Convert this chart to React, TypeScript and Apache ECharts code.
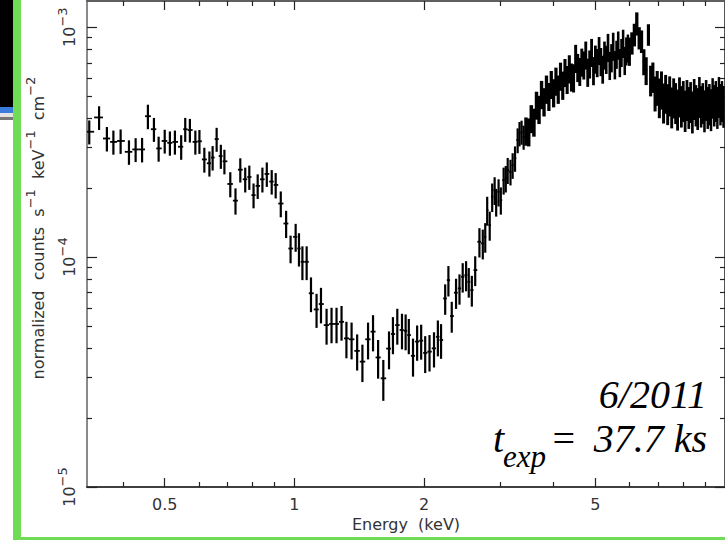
import React, { useEffect, useRef } from 'react';
import * as echarts from 'echarts';

// Counts are listed in units of 1e-4 counts s^-1 keV^-1 cm^-2.
const COUNT_UNIT = 1e-4;

// Soft band: wide bins from 0.33 keV up to ~3.4 keV.
const softEnergy = [
  0.334, 0.352, 0.367, 0.380, 0.395, 0.413, 0.428, 0.443, 0.457, 0.472,
  0.484, 0.500, 0.514, 0.528, 0.546, 0.558, 0.572, 0.589, 0.602, 0.618,
  0.635, 0.646, 0.660, 0.675, 0.688, 0.710, 0.730, 0.749, 0.769, 0.786,
  0.804, 0.822, 0.843, 0.863, 0.886, 0.905, 0.930, 0.957, 0.980, 1.007,
  1.025, 1.044, 1.068, 1.093, 1.126, 1.153, 1.188, 1.220, 1.253, 1.287,
  1.321, 1.358, 1.399, 1.439, 1.483, 1.523, 1.565, 1.609, 1.659, 1.694,
  1.734, 1.778, 1.813, 1.844, 1.886, 1.928, 1.970, 2.013, 2.060, 2.110,
  2.154, 2.191, 2.240, 2.279, 2.320, 2.374, 2.418, 2.460, 2.505, 2.541,
  2.583, 2.630, 2.690, 2.739, 2.775, 2.804, 2.842, 2.880, 2.918, 2.942,
  2.980, 3.016, 3.062, 3.097, 3.129, 3.176, 3.213, 3.254, 3.300, 3.333,
  3.370, 3.407,
];
const softCounts = [
  3.51, 4.05, 3.28, 3.17, 3.20, 2.87, 2.94, 2.94, 4.10, 3.60,
  2.97, 3.20, 3.14, 3.17, 3.02, 3.60, 3.57, 3.17, 3.19, 2.66,
  2.56, 2.71, 3.26, 2.75, 2.61, 2.08, 1.76, 2.40, 2.18, 2.23,
  1.86, 2.04, 2.18, 2.30, 2.13, 2.06, 1.71, 1.40, 1.09, 1.225,
  1.09, 0.954, 0.954, 0.696, 0.592, 0.625, 0.506, 0.512, 0.512, 0.523,
  0.443, 0.439, 0.391, 0.351, 0.439, 0.474, 0.366, 0.297, 0.400, 0.463,
  0.506, 0.482, 0.478, 0.458, 0.372, 0.429, 0.433, 0.383, 0.388, 0.401,
  0.450, 0.436, 0.661, 0.794, 0.554, 0.700, 0.731, 0.821, 0.835, 0.781,
  0.719, 0.878, 1.166, 1.147, 1.225, 1.600, 1.378, 1.83, 1.955, 1.74,
  1.92, 1.77, 2.16, 2.20, 2.39, 2.35, 2.51, 2.69, 3.23, 3.45,
  3.50, 3.33,
];
const softErr = [
  0.42, 0.48, 0.40, 0.38, 0.39, 0.35, 0.35, 0.36, 0.50, 0.43,
  0.37, 0.38, 0.38, 0.38, 0.37, 0.43, 0.42, 0.38, 0.38, 0.33,
  0.32, 0.33, 0.39, 0.33, 0.32, 0.26, 0.23, 0.29, 0.27, 0.27,
  0.23, 0.25, 0.27, 0.28, 0.26, 0.26, 0.22, 0.19, 0.15, 0.17,
  0.18, 0.16, 0.16, 0.12, 0.10, 0.11, 0.09, 0.09, 0.09, 0.09,
  0.08, 0.08, 0.07, 0.065, 0.08, 0.085, 0.07, 0.06, 0.075, 0.085,
  0.09, 0.085, 0.085, 0.08, 0.07, 0.075, 0.075, 0.07, 0.07, 0.07,
  0.08, 0.075, 0.10, 0.12, 0.085, 0.105, 0.11, 0.12, 0.125, 0.115,
  0.11, 0.13, 0.17, 0.17, 0.18, 0.23, 0.20, 0.26, 0.27, 0.24,
  0.26, 0.24, 0.29, 0.29, 0.31, 0.30, 0.32, 0.34, 0.40, 0.42,
  0.42, 0.40,
];

// Hard band: narrow bins from 3.45 keV to 10 keV, including the Fe line.
const hardEnergy = [
  3.45, 3.50, 3.55, 3.60, 3.65, 3.70, 3.75, 3.80, 3.85, 3.90,
  3.95, 4.00, 4.05, 4.10, 4.15, 4.20, 4.25, 4.30, 4.35, 4.40,
  4.45, 4.50, 4.55, 4.60, 4.65, 4.70, 4.75, 4.80, 4.85, 4.90,
  4.95, 5.00, 5.05, 5.10, 5.15, 5.20, 5.25, 5.30, 5.35, 5.40,
  5.45, 5.50, 5.55, 5.60, 5.65, 5.70, 5.75, 5.80, 5.85, 5.90,
  5.95, 6.00,
  6.08, 6.16, 6.24, 6.32, 6.40, 6.48, 6.56, 6.64, 6.72, 6.80,
  6.88, 6.96, 7.04, 7.12, 7.20, 7.28, 7.36, 7.44, 7.52, 7.60,
  7.68, 7.76, 7.84, 7.92, 8.00, 8.08, 8.16, 8.24, 8.32, 8.40,
  8.48, 8.56, 8.64, 8.72, 8.80, 8.88, 8.96, 9.04, 9.12, 9.20,
  9.28, 9.36, 9.44, 9.52, 9.60, 9.68, 9.76, 9.84, 9.92,
];
const hardCounts = [
  3.55, 3.52, 4.02, 3.88, 4.60, 4.41, 5.12, 4.76, 5.40, 5.02,
  5.66, 5.21, 5.85, 5.40, 6.15, 5.62, 6.38, 5.95, 6.62, 6.10,
  6.05, 7.35, 6.71, 6.45, 7.08, 6.88, 7.60, 6.40, 6.95, 7.80,
  6.50, 7.30, 7.05, 7.95, 7.12, 6.60, 7.60, 7.28, 8.20, 6.85,
  7.40, 8.30, 6.90, 7.66, 8.40, 7.05, 7.80, 8.55, 7.20, 7.92,
  8.15, 7.90,
  8.55, 9.30, 10.4, 9.0, 8.7, 7.1, 6.5, 9.3, 5.9, 6.1,
  5.2, 5.5, 5.0, 5.4, 4.75, 5.2, 4.7, 5.1, 4.55, 5.0,
  4.75, 4.45, 5.05, 4.6, 4.85, 4.4, 4.9, 4.55, 4.8, 4.35,
  4.95, 4.65, 4.5, 5.05, 4.6, 4.75, 4.4, 4.9, 4.55, 4.7,
  4.45, 5.0, 4.65, 4.85, 4.55, 5.05, 4.7, 4.85, 4.6,
];
const hardErr = [
  0.50, 0.49, 0.56, 0.54, 0.64, 0.62, 0.72, 0.67, 0.76, 0.70,
  0.79, 0.73, 0.82, 0.76, 0.86, 0.79, 0.89, 0.83, 0.93, 0.85,
  0.85, 1.03, 0.94, 0.90, 0.99, 0.96, 1.06, 0.90, 0.97, 1.09,
  0.91, 1.02, 0.99, 1.11, 1.00, 0.92, 1.06, 1.02, 1.15, 0.96,
  1.04, 1.16, 0.97, 1.07, 1.18, 0.99, 1.09, 1.20, 1.01, 1.11,
  1.14, 1.11,
  0.95, 1.05, 1.2, 1.0, 0.98, 0.92, 0.9, 1.0, 0.9, 0.92,
  0.9, 0.95, 0.98, 1.02, 0.94, 1.0, 0.95, 1.01, 0.92, 0.99,
  0.96, 0.9, 1.0, 0.94, 0.98, 0.9, 0.99, 0.94, 0.97, 0.9,
  1.0, 0.95, 0.93, 1.02, 0.94, 0.96, 0.91, 0.99, 0.94, 0.96,
  0.92, 1.0, 0.95, 0.98, 0.94, 1.02, 0.96, 0.98, 0.95,
];

// Axis ranges and tick positions
const X_MIN = 0.33;
const X_MAX = 10;
const Y_MIN = 1e-5;
const Y_MAX = 1.3e-3;
const xMajorTicks = [0.5, 1, 2, 5];
const xMinorTicks = [0.4, 0.6, 0.7, 0.8, 0.9, 3, 4, 6, 7, 8, 9];
const yMajorTicks = [1e-5, 1e-4, 1e-3];
const yMinorTicks = [
  2e-5, 3e-5, 4e-5, 5e-5, 6e-5, 7e-5, 8e-5, 9e-5,
  2e-4, 3e-4, 4e-4, 5e-4, 6e-4, 7e-4, 8e-4, 9e-4,
];

const AXIS_FONT = 'DejaVu Sans';
const SERIF_FONT = "'Liberation Serif', 'Times New Roman', serif";
const INK = '#000';
const GREEN = '#6fdc55';

function buildRows() {
  const energy = [...softEnergy, ...hardEnergy];
  const counts = [...softCounts, ...hardCounts];
  const errs = [...softErr, ...hardErr];
  const n = energy.length;
  return energy.map((e, i) => {
    // bin edges sit halfway (in log space) between neighbouring bin centres
    const prev = i > 0 ? energy[i - 1] : (e * e) / energy[i + 1];
    const next = i < n - 1 ? energy[i + 1] : (e * e) / energy[i - 1];
    return [
      e,
      counts[i] * COUNT_UNIT,
      Math.sqrt(prev * e),
      Math.sqrt(e * next),
      errs[i] * COUNT_UNIT,
      i >= softEnergy.length ? 1 : 0, // 1 = hard band bin
    ];
  });
}

function xAxisDef(position: 'top' | 'bottom', ticks: number[], len: number, labels: boolean, lineColor: string) {
  return {
    type: 'log',
    logBase: 10,
    position,
    min: X_MIN,
    max: X_MAX,
    gridIndex: 0,
    splitLine: { show: false },
    axisLine: { show: true, lineStyle: { color: lineColor, width: 1.5 } },
    axisTick: {
      show: true,
      inside: true,
      length: len,
      customValues: ticks,
      lineStyle: { color: '#222', width: 1.2 },
    },
    axisLabel: labels
      ? {
          show: true,
          customValues: ticks,
          margin: 9,
          color: '#333',
          fontFamily: AXIS_FONT,
          fontSize: 16,
          formatter: (v: number) => String(v),
        }
      : { show: false },
    name: labels ? 'Energy  (keV)' : '',
    nameLocation: 'middle',
    nameGap: 27,
    nameTextStyle: { color: '#333', fontFamily: AXIS_FONT, fontSize: 16 },
  };
}

function yAxisDef(position: 'left' | 'right', ticks: number[], len: number, labels: boolean, lineColor: string) {
  return {
    type: 'log',
    logBase: 10,
    position,
    min: Y_MIN,
    max: Y_MAX,
    gridIndex: 0,
    splitLine: { show: false },
    axisLine: { show: true, lineStyle: { color: lineColor, width: 2 } },
    axisTick: {
      show: true,
      inside: true,
      length: len,
      customValues: ticks,
      lineStyle: { color: '#222', width: 1.2 },
    },
    axisLabel: labels
      ? {
          show: true,
          customValues: ticks,
          rotate: 90,
          margin: 5,
          formatter: (v: number) => `{b|10}{s|\u2212${Math.round(-Math.log10(v))}}`,
          rich: {
            b: { fontFamily: AXIS_FONT, fontSize: 16, color: '#333', lineHeight: 26 },
            s: { fontFamily: AXIS_FONT, fontSize: 13, color: '#333', lineHeight: 14, verticalAlign: 'top' },
          },
        }
      : { show: false },
  };
}

function serifText(text: string, x: number, y: number, size: number, align: string) {
  return {
    type: 'text',
    x,
    y,
    style: {
      text,
      font: `italic ${size}px ${SERIF_FONT}`,
      fill: '#000',
      align,
      verticalAlign: 'middle',
    },
  };
}

export default function App() {
  const ref = useRef<HTMLDivElement>(null);

  useEffect(() => {
    if (!ref.current) return;
    const chart = echarts.init(ref.current, undefined, { renderer: 'svg' });
    const rows = buildRows();

    const option = {
      animation: false,
      backgroundColor: '#fff',
      grid: { left: 87, top: 1, width: 641, height: 486, containLabel: false },
      xAxis: [
        xAxisDef('bottom', xMajorTicks, 9, true, '#333'),
        xAxisDef('bottom', xMinorTicks, 5, false, '#333'),
        xAxisDef('top', xMajorTicks, 9, false, '#555'),
        xAxisDef('top', xMinorTicks, 5, false, '#555'),
      ],
      yAxis: [
        yAxisDef('left', yMajorTicks, 10, true, '#8a8a8a'),
        yAxisDef('left', yMinorTicks, 5, false, '#8a8a8a'),
        yAxisDef('right', yMajorTicks, 10, false, '#555'),
        yAxisDef('right', yMinorTicks, 5, false, '#555'),
      ],
      series: [
        {
          type: 'custom',
          name: 'spectrum',
          xAxisIndex: 0,
          yAxisIndex: 0,
          data: rows,
          encode: { x: 0, y: 1 },
          clip: true,
          renderItem: (_params: any, api: any) => {
            const e = api.value(0);
            const v = api.value(1);
            const lo = api.value(2);
            const hi = api.value(3);
            const err = api.value(4);
            const hard = api.value(5) === 1;
            const top = api.coord([e, v + err]);
            const bot = api.coord([e, Math.max(v - err, Y_MIN * 0.5)]);
            const left = api.coord([lo, v]);
            const right = api.coord([hi, v]);
            // the narrow hard-band bins merge into a solid band
            const binPx = right[0] - left[0];
            const barWidth = hard ? binPx + 0.9 : 2.2;
            return {
              type: 'group',
              children: [
                {
                  type: 'line',
                  shape: { x1: top[0], y1: top[1], x2: bot[0], y2: bot[1] },
                  style: { stroke: INK, lineWidth: barWidth },
                },
                {
                  type: 'line',
                  shape: { x1: left[0], y1: left[1], x2: right[0], y2: right[1] },
                  style: { stroke: INK, lineWidth: 1.8 },
                },
              ],
            };
          },
        },
      ],
      graphic: [
        // window chrome at the left edge
        { type: 'rect', left: 0, top: 0, shape: { width: 13, height: 107 }, style: { fill: '#000' } },
        { type: 'rect', left: 0, top: 107, shape: { width: 13, height: 6 }, style: { fill: '#3b7bdc' } },
        { type: 'rect', left: 0, top: 113, shape: { width: 13, height: 4 }, style: { fill: '#e4e4e4' } },
        { type: 'rect', left: 0, top: 117, shape: { width: 13, height: 3 }, style: { fill: '#777' } },
        { type: 'rect', left: 13, top: 0, shape: { width: 8, height: 540 }, style: { fill: GREEN } },
        { type: 'rect', left: 13, top: 537, shape: { width: 712, height: 3 }, style: { fill: GREEN } },
        // y axis title
        {
          type: 'text',
          x: 38,
          y: 228,
          rotation: Math.PI / 2,
          style: {
            text: '{t|normalized  counts  s}{s|\u22121}{t|  keV}{s|\u22121}{t|  cm}{s|\u22122}',
            align: 'center',
            verticalAlign: 'middle',
            rich: {
              t: { fontFamily: AXIS_FONT, fontSize: 16, fill: '#333', lineHeight: 28 },
              s: { fontFamily: AXIS_FONT, fontSize: 13, fill: '#333', lineHeight: 14, verticalAlign: 'top' },
            },
          },
        },
        // observation annotation
        serifText('6/2011', 707, 394, 40, 'right'),
        serifText('t', 493, 438, 40, 'left'),
        serifText('exp', 503, 456, 31, 'left'),
        serifText('=', 550, 438, 40, 'left'),
        serifText('37.7 ks', 707, 438, 40, 'right'),
      ],
    };

    chart.setOption(option as any);
    return () => chart.dispose();
  }, []);

  return (
    <div
      ref={ref}
      style={{ position: 'absolute', left: 0, top: 0, width: 725, height: 540, background: '#fff' }}
    />
  );
}
